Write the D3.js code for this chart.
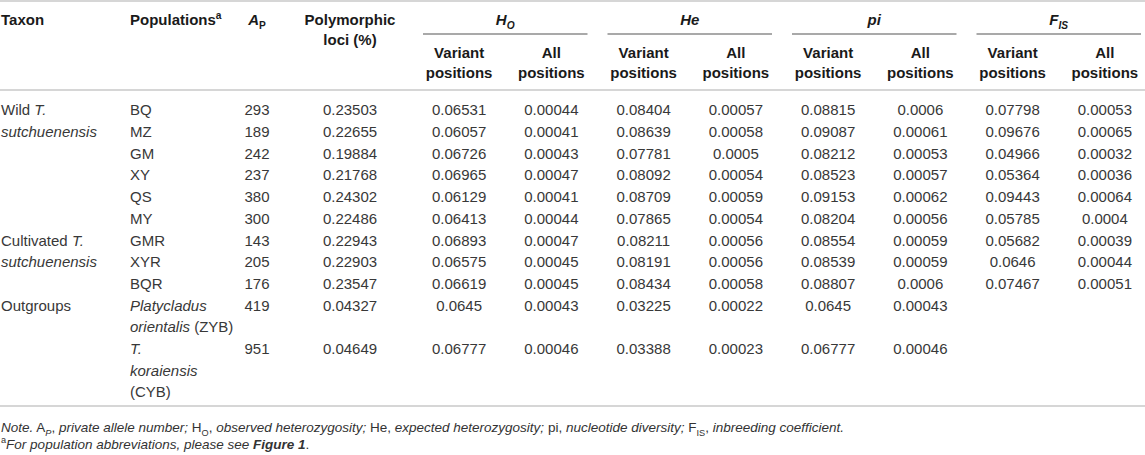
<!DOCTYPE html>
<html>
<head>
<meta charset="utf-8">
<script src="https://cdn.jsdelivr.net/npm/d3@7"></script>
<style>
  html, body { margin: 0; padding: 0; background: #fff; }
  svg { display: block; }
  text { white-space: pre; }
</style>
</head>
<body>
<script>
// ---------- data ----------
const taxonGroups = ["Wild *T.*\n*sutchuenensis*", "Cultivated *T.*\n*sutchuenensis*", "Outgroups"];
const taxonOfRow = [0, 0, 0, 0, 0, 0, 1, 1, 1, 2, 2];
const populations = ["BQ", "MZ", "GM", "XY", "QS", "MY", "GMR", "XYR", "BQR",
  "*Platycladus*\n*orientalis* (ZYB)", "*T.*\n*koraiensis*\n(CYB)"];
const apValues = [293, 189, 242, 237, 380, 300, 143, 205, 176, 419, 951];
const polymorphic = [0.23503, 0.22655, 0.19884, 0.21768, 0.24302, 0.22486, 0.22943, 0.22903, 0.23547, 0.04327, 0.04649];
const hoVariant = [0.06531, 0.06057, 0.06726, 0.06965, 0.06129, 0.06413, 0.06893, 0.06575, 0.06619, 0.0645, 0.06777];
const hoAll = [0.00044, 0.00041, 0.00043, 0.00047, 0.00041, 0.00044, 0.00047, 0.00045, 0.00045, 0.00043, 0.00046];
const heVariant = [0.08404, 0.08639, 0.07781, 0.08092, 0.08709, 0.07865, 0.08211, 0.08191, 0.08434, 0.03225, 0.03388];
const heAll = [0.00057, 0.00058, 0.0005, 0.00054, 0.00059, 0.00054, 0.00056, 0.00056, 0.00058, 0.00022, 0.00023];
const piVariant = [0.08815, 0.09087, 0.08212, 0.08523, 0.09153, 0.08204, 0.08554, 0.08539, 0.08807, 0.0645, 0.06777];
const piAll = [0.0006, 0.00061, 0.00053, 0.00057, 0.00062, 0.00056, 0.00059, 0.00059, 0.0006, 0.00043, 0.00046];
const fisVariant = [0.07798, 0.09676, 0.04966, 0.05364, 0.09443, 0.05785, 0.05682, 0.0646, 0.07467, null, null];
const fisAll = [0.00053, 0.00065, 0.00032, 0.00036, 0.00064, 0.0004, 0.00039, 0.00044, 0.00051, null, null];

const groupLabels = ["*H*_*O*_", "*He*", "*pi*", "*F*_*IS*_"];
const subLabels = ["Variant\npositions", "All\npositions"];
const noteLines = [
  "*Note.* A_*P*_, *private allele number;* H_O_, *observed heterozygosity;* He, *expected heterozygosity;* pi, *nucleotide diversity;* F_IS_, *inbreeding coefficient.*",
  "^a^*For population abbreviations, please see* *#Figure 1#*."
];

// ---------- layout ----------
const W = 1145, H = 455;
const FONT = "'Liberation Sans', Arial, Helvetica, sans-serif";
const svg = d3.select("body").append("svg").attr("width", W).attr("height", H)
  .style("font-family", FONT);

// markup parser: *italic*, #bold#, _sub_, ^sup^
function parse(str) {
  const parts = [];
  let it = false, bd = false, sub = false, sup = false, buf = "";
  const flush = () => { if (buf) parts.push({ t: buf, i: it, b: bd, sub, sup }); buf = ""; };
  for (const ch of str) {
    if (ch === "*") { flush(); it = !it; }
    else if (ch === "#") { flush(); bd = !bd; }
    else if (ch === "_") { flush(); sub = !sub; }
    else if (ch === "^") { flush(); sup = !sup; }
    else buf += ch;
  }
  flush();
  return parts;
}

function rich(g, x, y, str, opts) {
  const size = opts.size;
  const t = g.append("text").attr("x", x).attr("y", y)
    .attr("text-anchor", opts.anchor || "start")
    .attr("font-size", size)
    .attr("font-weight", opts.bold ? "bold" : "normal")
    .attr("fill", opts.fill || "#333");
  let shift = 0;
  parse(str).forEach(p => {
    const target = p.sub ? size * 0.28 : p.sup ? -size * 0.38 : 0;
    const ts = t.append("tspan").text(p.t).attr("dy", target - shift);
    shift = target;
    if (p.i) ts.attr("font-style", "italic");
    if (p.b) ts.attr("font-weight", "bold");
    if (p.sub || p.sup) ts.attr("font-size", size * 0.68);
  });
  return t;
}

function multiline(g, x, yFn, str, opts) {
  str.split("\n").forEach((line, k) => rich(g, x, yFn(k), line, opts));
}

// row line starts derived from number of lines in population labels
const lineCounts = populations.map(p => p.split("\n").length);
const rowStart = lineCounts.map((c, i) => d3.sum(lineCounts.slice(0, i)));
const totalLines = d3.sum(lineCounts);

const y = d3.scaleLinear().domain([0, totalLines - 1]).range([110, 110 + (totalLines - 1) * 21.7]);
const baseOff = 5.3;

// x scales
const leftCols = d3.scaleOrdinal().domain(["taxon", "pop", "ap", "poly"]).range([1, 130, 257, 350]);
const statKeys = ["hoV", "hoA", "heV", "heA", "piV", "piA", "fisV", "fisA"];
const xStat = d3.scaleBand().domain(statKeys).range([413, 1151]);
const cx = k => xStat(k) + xStat.bandwidth() / 2;
const statData = { hoV: hoVariant, hoA: hoAll, heV: heVariant, heA: heAll, piV: piVariant, piA: piAll, fisV: fisVariant, fisA: fisAll };

const BODY = 15, HEAD = { size: 15, bold: true, fill: "#1a1a1a" };

// rules
const rules = svg.append("g").attr("stroke", "#c8c8c8").attr("stroke-width", 1.5);
[1, 90, 406].forEach(v => rules.append("line").attr("x1", 0).attr("x2", W).attr("y1", v).attr("y2", v));

// header
const hg = svg.append("g");
rich(hg, leftCols("taxon"), 25, "Taxon", HEAD);
rich(hg, leftCols("pop"), 25, "Populations^a^", HEAD);
rich(hg, leftCols("ap"), 25, "*A*_P_", { ...HEAD, anchor: "middle" });
multiline(hg, leftCols("poly"), k => 25 + k * 20, "Polymorphic\nloci (%)", { ...HEAD, anchor: "middle" });

groupLabels.forEach((lab, gi) => {
  const k0 = statKeys[gi * 2], k1 = statKeys[gi * 2 + 1];
  const x0 = xStat(k0) + 10, x1 = xStat(k1) + xStat.bandwidth() - 10;
  rich(hg, (x0 + x1) / 2, 25, lab, { ...HEAD, anchor: "middle" });
  hg.append("line").attr("x1", x0).attr("x2", x1).attr("y1", 34).attr("y2", 34)
    .attr("stroke", "#555").attr("stroke-width", 1.1);
  [k0, k1].forEach((k, j) => multiline(hg, cx(k), n => 57.5 + n * 20, subLabels[j], { ...HEAD, anchor: "middle" }));
});

// body
const bg = svg.append("g");
const bodyOpts = { size: BODY, fill: "#383838" };
taxonGroups.forEach((tx, gi) => {
  const firstRow = taxonOfRow.indexOf(gi);
  multiline(bg, leftCols("taxon"), k => y(rowStart[firstRow] + k) + baseOff, tx, bodyOpts);
});
populations.forEach((p, i) => {
  multiline(bg, leftCols("pop"), k => y(rowStart[i] + k) + baseOff, p, bodyOpts);
  rich(bg, leftCols("ap"), y(rowStart[i]) + baseOff, String(apValues[i]), { ...bodyOpts, anchor: "middle" });
  rich(bg, leftCols("poly"), y(rowStart[i]) + baseOff, String(polymorphic[i]), { ...bodyOpts, anchor: "middle" });
  statKeys.forEach(k => {
    const v = statData[k][i];
    if (v !== null && v !== undefined)
      rich(bg, cx(k), y(rowStart[i]) + baseOff, String(v), { ...bodyOpts, anchor: "middle" });
  });
});

// notes
const ng = svg.append("g");
noteLines.forEach((ln, k) => rich(ng, 1, 432 + k * 16.5, ln, { size: 13.5, fill: "#333" }));
</script>
</body>
</html>
